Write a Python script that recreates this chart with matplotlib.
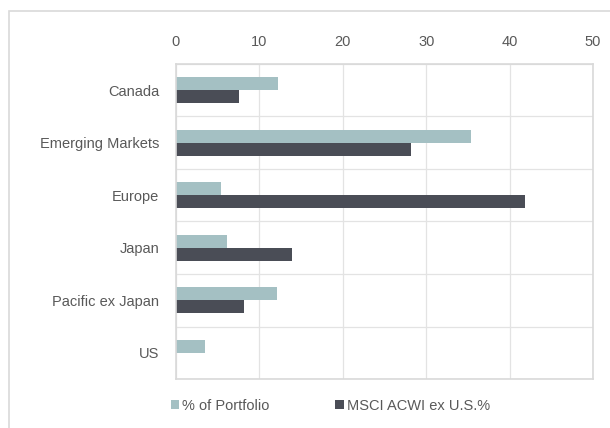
import numpy as np
import matplotlib.pyplot as plt
from matplotlib.patches import Rectangle
from matplotlib import font_manager

# ==============================
# Data
# ==============================
regions = ['Canada', 'Emerging Markets', 'Europe', 'Japan', 'Pacific ex Japan', 'US']
portfolio = [12.2, 35.4, 5.4, 6.1, 12.1, 3.5]
msci = [7.6, 28.2, 41.8, 13.9, 8.1, 0.0]
xticks = [0, 10, 20, 30, 40, 50]

# ==============================
# Style
# ==============================
names = {f.name for f in font_manager.fontManager.ttflist}
font = 'Liberation Sans Narrow' if 'Liberation Sans Narrow' in names else 'Liberation Sans'
plt.rcParams['font.family'] = [font, 'DejaVu Sans']

text_color = '#595959'
grid_color = '#d9d9d9'
c_port = '#a4c0c3'
c_msci = '#4a4d56'

fig = plt.figure(figsize=(6.10, 4.28), dpi=100)
ax = fig.add_axes([176 / 610, 1 - 379 / 428, (593 - 176) / 610, (379 - 64) / 428])

# outer border
fig.patches.append(Rectangle((9 / 610, -0.05), 1.0, 1 - 11 / 428 + 0.05,
                             transform=fig.transFigure, fill=False,
                             edgecolor='#d9d9d9', linewidth=1.2))

# ==============================
# Bars
# ==============================
y = np.arange(len(regions))
h = 0.25
ax.barh(y - h / 2, portfolio, height=h, color=c_port, label='% of Portfolio')
ax.barh(y + h / 2, msci, height=h, color=c_msci, label='MSCI ACWI ex U.S.%')

ax.set_ylim(len(regions) - 0.5, -0.5)
ax.set_xlim(0, 50)
ax.set_xticks(xticks)
ax.xaxis.tick_top()
ax.set_yticks(y)
ax.set_yticklabels(regions)
ax.set_yticks(np.arange(len(regions) + 1) - 0.5, minor=True)

ax.tick_params(axis='both', which='both', length=0, labelsize=10.5, colors=text_color)
ax.tick_params(axis='x', pad=11)
ax.tick_params(axis='y', pad=12)

ax.grid(axis='x', color='#e3e3e3', linewidth=0.9)
ax.grid(axis='y', which='minor', color='#e3e3e3', linewidth=0.9)
ax.set_axisbelow(True)
for s in ax.spines.values():
    s.set_color(grid_color)
    s.set_linewidth(1.2)

ax.legend(loc='center', bbox_to_anchor=(0.37, -0.085), ncol=2, frameon=False,
          fontsize=10.5, labelcolor=text_color, handlelength=0.6, handleheight=0.6,
          handletextpad=0.2, columnspacing=4.5)

fig.savefig('out.png', dpi=100)
